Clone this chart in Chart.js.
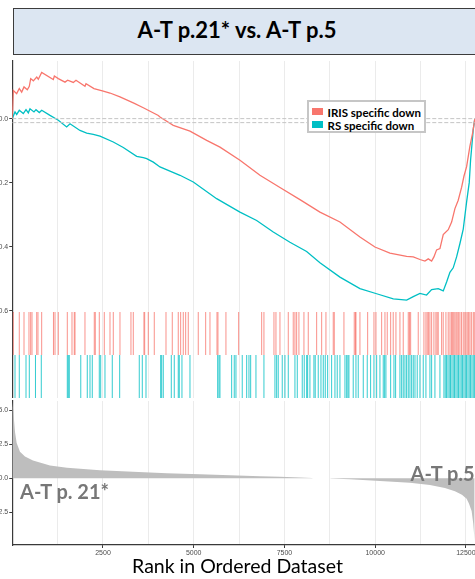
<!DOCTYPE html>
<html>
<head>
<meta charset="utf-8">
<style>
  body { margin: 0; background: #fff; }
  #wrap { position: relative; width: 475px; height: 579px; overflow: hidden; font-family: Lato, sans-serif; }
  .panel { position: absolute; left: -20px; }
  .panel canvas { display: block; }
  #titleBox { position: absolute; left: 13px; top: 8px; width: 490px; height: 47px; box-sizing: border-box;
              border: 1.6px solid #3c3c3c; background: #dce6f2; }
  .txt { position: absolute; line-height: 1; white-space: nowrap; }
  #title { left: 0; width: 474px; text-align: center; top: 18.5px; font-size: 22px; font-weight: 700; color: #000; }
  #xTitle { left: 0; width: 475px; text-align: center; top: 556px; font-size: 19.5px; color: #000; }
  .group { font-size: 20px; font-weight: 700; color: #777; }
  #legend { position: absolute; left: 306.5px; top: 100px; width: 119px; height: 33px; box-sizing: border-box;
            border: 2px solid #c6c6c6; background: #fff; }
  .key { position: absolute; width: 11px; height: 6.5px; }
  .lab { position: absolute; font-size: 11.5px; font-weight: 700; line-height: 1; color: #000; white-space: nowrap; }
</style>
</head>
<body>
<div id="wrap">
  <div id="titleBox"></div>
  <div class="txt" id="title">A-T p.21* vs. A-T p.5</div>

  <div class="panel" style="top:55.7px"><canvas id="esChart" width="495" height="261"></canvas></div>
  <div class="panel" style="top:311.7px"><canvas id="hitChart" width="495" height="86"></canvas></div>
  <div class="panel" style="top:396px"><canvas id="rankChart" width="495" height="163"></canvas></div>

  <div id="legend"></div>
  <div class="txt group" style="left:20px; top:481.3px">A-T p. 21*</div>
  <div class="txt group" style="left:410.5px; top:463.3px">A-T p.5</div>
  <div class="txt" id="xTitle">Rank in Ordered Dataset</div>
</div>

<script src="https://cdn.jsdelivr.net/npm/chart.js"></script>
<script>
  const seriesNames = ['IRIS specific down', 'RS specific down'];
  const seriesColors = ['#F8766D', '#00BFC4'];

  const xMax = 12750;
  const xTicks = [2500, 5000, 7500, 10000, 12500];
  const xGrid = [1250, 2500, 3750, 5000, 6250, 7500, 8750, 10000, 11250, 12500];
  const esTicks = [0, -0.2, -0.4, -0.6];
  const metricTicks = [5, 2.5, 0, -2.5];
  const zeroLines = [0, -0.0125];

  // running enrichment score, IRIS specific down
  const esIrisRank = [0, 29, 122, 194, 260, 324, 415, 470, 508, 581, 674, 718, 811, 1131, 1160, 1269, 1453, 1526,
    1682, 1756, 2004, 2032, 2252, 2508, 2693, 2968, 3335, 3611, 4024, 4070, 4437, 4897, 5357, 5723, 6274, 6825,
    7376, 7927, 8478, 9029, 9580, 9993, 10406, 10866, 11049, 11233, 11370, 11462, 11555, 11618, 11692, 11784,
    11875, 12013, 12106, 12197, 12288, 12382, 12445, 12519, 12610, 12684, 12745];
  const esIrisScore = [0, 0.088, 0.078, 0.094, 0.083, 0.099, 0.09, 0.101, 0.125, 0.118, 0.13, 0.123, 0.144, 0.122,
    0.133, 0.125, 0.114, 0.12, 0.113, 0.12, 0.101, 0.109, 0.094, 0.086, 0.08, 0.068, 0.049, 0.034, 0.01, 0.005,
    -0.021, -0.039, -0.068, -0.089, -0.13, -0.177, -0.215, -0.253, -0.292, -0.323, -0.37, -0.401, -0.42, -0.43,
    -0.432, -0.44, -0.445, -0.438, -0.445, -0.432, -0.41, -0.406, -0.362, -0.347, -0.323, -0.281, -0.255, -0.214,
    -0.18, -0.15, -0.086, -0.045, 0];

  // running enrichment score, RS specific down
  const esRsRank = [0, 76, 122, 194, 305, 379, 443, 489, 599, 654, 746, 811, 1040, 1269, 1499, 1591, 1866, 2051,
    2233, 2417, 2784, 3059, 3428, 3611, 3704, 3887, 4070, 4621, 4988, 5632, 6274, 6734, 7192, 7651, 8111, 8478,
    9029, 9580, 10040, 10499, 10866, 11049, 11233, 11416, 11555, 11737, 11875, 11968, 12059, 12150, 12243, 12335,
    12426, 12519, 12591, 12628, 12701, 12745];
  const esRsScore = [0, 0.021, 0.013, 0.026, 0.016, 0.028, 0.018, 0.031, 0.021, 0.028, 0.019, 0.026, 0.01, -0.005,
    -0.026, -0.016, -0.037, -0.045, -0.049, -0.055, -0.073, -0.09, -0.118, -0.122, -0.125, -0.136, -0.151, -0.177,
    -0.198, -0.25, -0.292, -0.318, -0.354, -0.386, -0.415, -0.45, -0.495, -0.531, -0.547, -0.563, -0.567, -0.556,
    -0.546, -0.551, -0.534, -0.531, -0.538, -0.51, -0.48, -0.466, -0.432, -0.39, -0.345, -0.26, -0.2, -0.13,
    -0.035, 0];

  // ranks of the gene set members
  const hitsIris = [29, 194, 324, 461, 508, 544, 674, 709, 811, 1136, 1178, 1269, 1517, 1646, 1709, 1729, 2004,
    2260, 2288, 2398, 2536, 2693, 2784, 2968, 3271, 3335, 3629, 3649, 3748, 3913, 4236, 4409, 4574, 4640, 4712,
    4778, 4850, 5125, 5329, 5448, 5641, 5668, 5888, 6238, 6872, 6935, 7211, 7266, 7376, 7605, 7742, 7789, 7836,
    7899, 8037, 8156, 8387, 8525, 8643, 8844, 8872, 9139, 9423, 9456, 9470, 9580, 9792, 9966, 10021, 10178, 10269,
    10332, 10426, 10497, 10572, 10682, 10773, 10911, 10944, 10977, 11186, 11343, 11398, 11434, 11472, 11508, 11555,
    11618, 11673, 11706, 11737, 11830, 11874, 11949, 12012, 12060, 12100, 12134, 12165, 12197, 12230, 12260, 12300,
    12335, 12380, 12426, 12470, 12500, 12536, 12574, 12610, 12650, 12701, 12730];
  const hitsRs = [76, 194, 379, 470, 640, 800, 1517, 1544, 1572, 1888, 2067, 2142, 2205, 2398, 2437, 2555, 2756,
    2960, 3500, 3583, 3685, 4089, 4117, 4161, 4382, 4464, 4574, 4602, 4676, 4897, 5660, 5696, 5723, 6045, 6117,
    6164, 6337, 6459, 6522, 6569, 6715, 6935, 7238, 7285, 7329, 7439, 7514, 7605, 7789, 7853, 7990, 8045, 8112,
    8139, 8202, 8312, 8348, 8431, 8506, 8569, 8624, 8690, 8800, 8891, 8954, 9029, 9167, 9214, 9249, 9277, 9395,
    9470, 9533, 9671, 9781, 9874, 9966, 10040, 10131, 10222, 10260, 10296, 10426, 10517, 10563, 10682, 10729,
    10773, 10820, 10866, 10911, 10957, 11004, 11049, 11096, 11158, 11233, 11324, 11398, 11508, 11555, 11646,
    11784, 11894, 11930, 11966, 12004, 12040, 12075, 12114, 12150, 12186, 12224, 12260, 12296, 12335, 12371,
    12407, 12445, 12481, 12517, 12555, 12591, 12627, 12665, 12701, 12734];

  // ranked list metric
  const metricRank = [0, 29, 48, 76, 122, 213, 351, 571, 1040, 1508, 2417, 3326, 4262, 5170, 6000, 6825, 7376,
    7927, 8258, 8285, 8754, 8790, 9305, 10131, 10957, 11508, 11921, 12197, 12390, 12519, 12583, 12657, 12701, 12740];
  const metricValue = [5.6, 5.0, 4.3, 3.4, 2.6, 1.95, 1.6, 1.3, 0.95, 0.78, 0.6, 0.48, 0.38, 0.3, 0.22, 0.16, 0.12,
    0.06, 0.02, 0, 0, -0.02, -0.07, -0.2, -0.33, -0.5, -0.72, -0.95, -1.2, -1.5, -1.85, -2.4, -3.3, -4.6];

  const tickFont = { family: 'Liberation Sans', size: 7 };
  const axisColor = '#3a3a3a';
  const gridColor = '#ebebeb';

  function pts(xs, ys) {
    return xs.map((x, i) => ({ x: x, y: ys[i] }));
  }

  function xScale(showLabels) {
    return {
      type: 'linear', min: 0, max: xMax,
      afterBuildTicks: s => { s.ticks = xGrid.map(v => ({ value: v })); },
      grid: {
        color: gridColor, lineWidth: 1, drawTicks: showLabels, tickLength: 3,
        tickColor: c => xTicks.includes(c.tick.value) ? axisColor : 'rgba(0,0,0,0)'
      },
      border: { display: showLabels, color: axisColor, width: 1.2 },
      ticks: {
        display: showLabels, autoSkip: false, maxRotation: 0, padding: 1, color: '#4d4d4d', font: tickFont,
        callback: v => xTicks.includes(v) ? String(v) : ''
      },
      afterFit: s => { s.height = showLabels ? 14 : 0; s.paddingLeft = 0; s.paddingRight = 0; }
    };
  }

  function yScale(min, max, ticks) {
    return {
      type: 'linear', min: min, max: max,
      afterBuildTicks: s => { s.ticks = ticks.map(v => ({ value: v })); },
      grid: { drawOnChartArea: false, drawTicks: true, tickLength: 3, tickColor: axisColor },
      border: { display: true, color: axisColor, width: 1.2 },
      ticks: { display: ticks.length > 0, padding: 1, color: '#4d4d4d', font: tickFont, callback: v => v.toFixed(1) },
      afterFit: s => { s.width = 32.25; s.paddingTop = 0; s.paddingBottom = 0; }
    };
  }

  const common = {
    responsive: false,
    animation: false,
    events: [],
    plugins: { legend: { display: false }, tooltip: { enabled: false } }
  };

  // running score panel
  const esSets = zeroLines.map(v => ({
    data: [{ x: 0, y: v }, { x: xMax, y: v }],
    borderColor: '#c4c4c4', borderWidth: 1, borderDash: [4, 2], pointRadius: 0
  }));
  esSets.push(
    { label: seriesNames[0], data: pts(esIrisRank, esIrisScore), borderColor: seriesColors[0], borderWidth: 1.3, pointRadius: 0 },
    { label: seriesNames[1], data: pts(esRsRank, esRsScore), borderColor: seriesColors[1], borderWidth: 1.3, pointRadius: 0 }
  );
  new Chart(document.getElementById('esChart'), {
    type: 'line',
    data: { datasets: esSets },
    options: Object.assign({}, common, {
      layout: { padding: { top: 5, bottom: 5, left: 0, right: 0 } },
      scales: { x: xScale(false), y: yScale(-0.604, 0.18, esTicks) }
    })
  });

  // gene hits panel
  const hitStyle = (color) => ({
    pointStyle: 'line', rotation: 90, borderColor: color, pointBorderColor: color, pointBorderWidth: 0.8,
    pointRadius: c => c.chart.chartArea ? c.chart.chartArea.height / 4 : 0
  });
  new Chart(document.getElementById('hitChart'), {
    type: 'scatter',
    data: {
      datasets: [
        Object.assign({ label: seriesNames[0], data: hitsIris.map(r => ({ x: r, y: 1.5 })) }, hitStyle(seriesColors[0])),
        Object.assign({ label: seriesNames[1], data: hitsRs.map(r => ({ x: r, y: 0.5 })) }, hitStyle(seriesColors[1]))
      ]
    },
    options: Object.assign({}, common, {
      layout: { padding: 0 },
      scales: { x: xScale(false), y: Object.assign(yScale(0, 2, []), { grid: { display: false } }) }
    })
  });

  // ranked list metric panel
  new Chart(document.getElementById('rankChart'), {
    type: 'line',
    data: {
      datasets: [{
        data: pts(metricRank, metricValue), fill: 'origin',
        backgroundColor: '#bebebe', borderWidth: 0, pointRadius: 0
      }]
    },
    options: Object.assign({}, common, {
      layout: { padding: { top: 5, bottom: 0, left: 0, right: 0 } },
      scales: { x: xScale(true), y: yScale(-4.9, 5.68, metricTicks) }
    })
  });

  // legend box
  const legend = document.getElementById('legend');
  seriesNames.forEach((name, i) => {
    const key = document.createElement('div');
    key.className = 'key';
    key.style.left = '3.5px';
    key.style.top = (6.3 + i * 13) + 'px';
    key.style.background = seriesColors[i];
    legend.appendChild(key);
    const lab = document.createElement('div');
    lab.className = 'lab';
    lab.style.left = '19px';
    lab.style.top = (5.1 + i * 12.4) + 'px';
    lab.textContent = name;
    legend.appendChild(lab);
  });
</script>
</body>
</html>
